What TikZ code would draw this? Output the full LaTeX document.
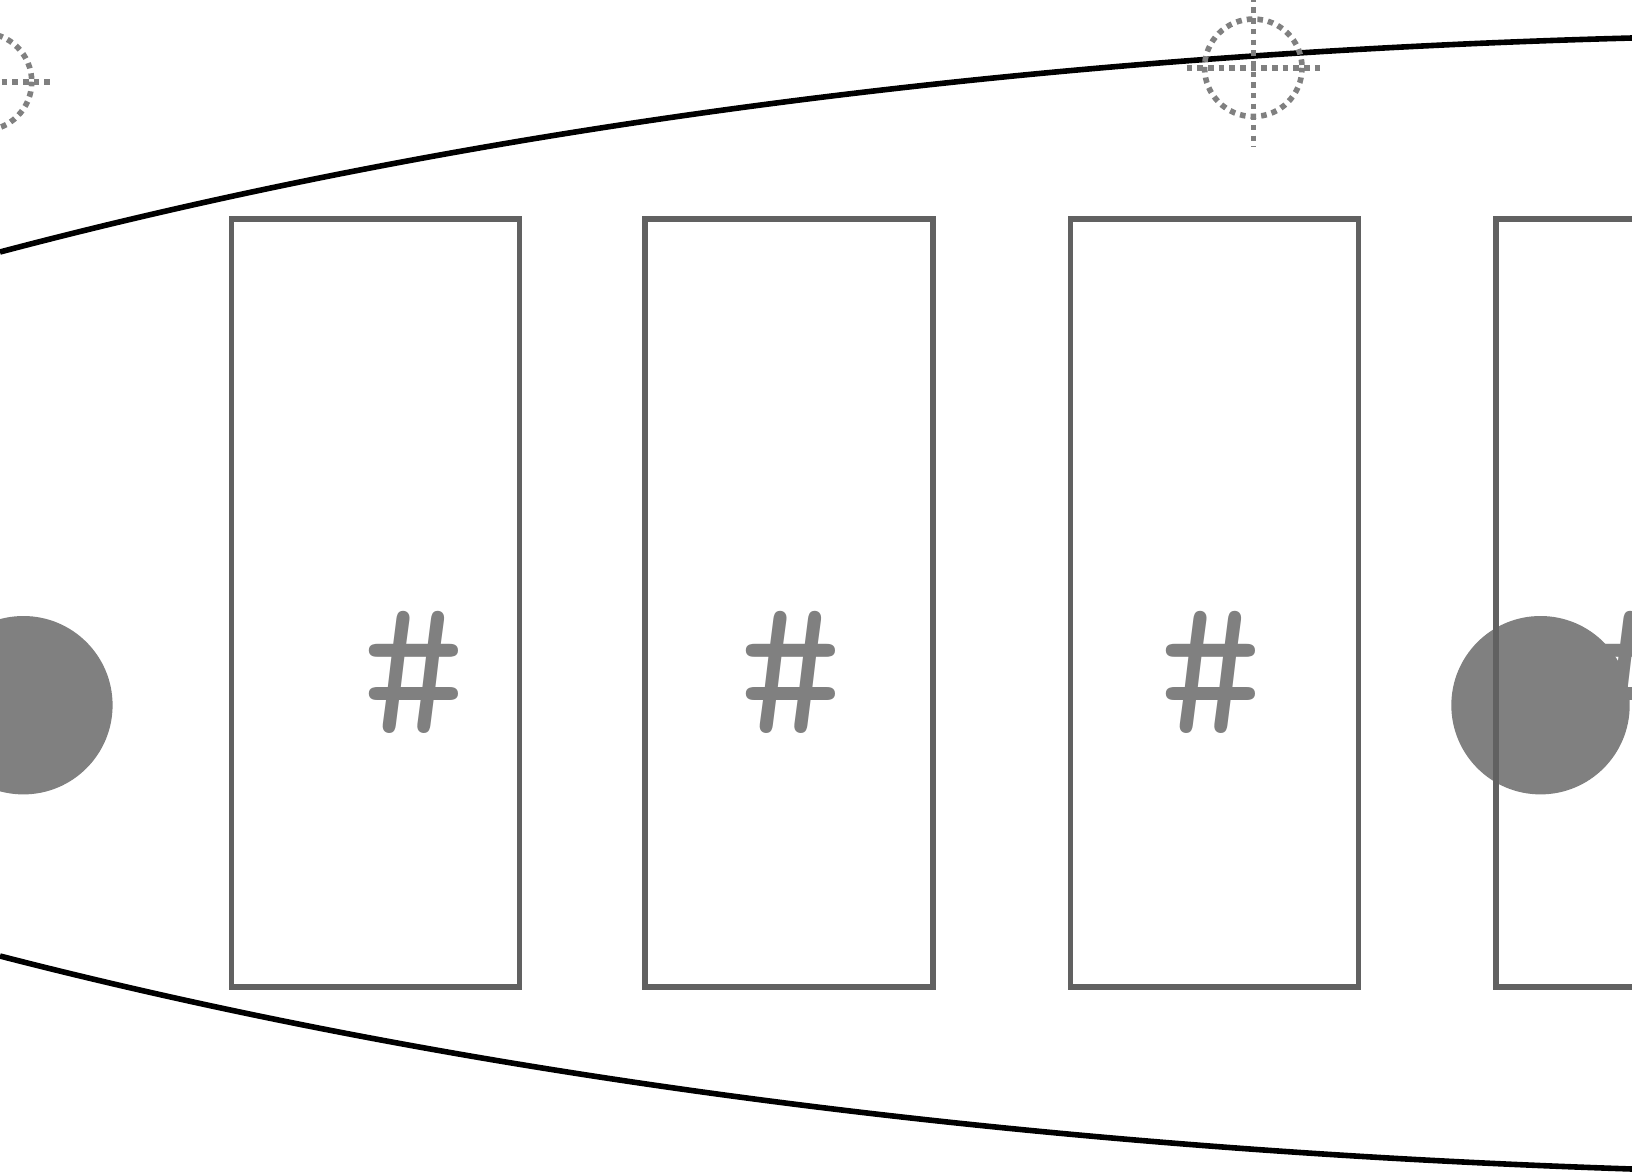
\documentclass[tikz,border=0pt]{standalone}
\usepackage{fontspec}
\setmonofont{Latin Modern Mono}
\definecolor{slotgray}{HTML}{616161}
\definecolor{markgray}{HTML}{808080}
\begin{document}
\begin{tikzpicture}[x=1pt,y=-1pt,
  curve/.style={draw=black,line width=5.6pt},
  slot/.style={draw=slotgray,line width=5.6pt,fill=none,rectangle,inner sep=0pt,outer sep=0pt,minimum width=288pt,minimum height=768pt,anchor=north west},
  hashmark/.style={text=markgray,font=\ttfamily\fontsize{200pt}{200pt}\selectfont,inner sep=0pt,anchor=base},
  disc/.style={circle,fill=markgray,draw=none,inner sep=0pt,outer sep=0pt,minimum size=178.4pt},
  dots/.style={draw=markgray,line width=5.6pt,dash pattern=on 5.6pt off 5.07pt},
  ring/.style={circle,dots,dash phase=7.84pt,inner sep=0pt,outer sep=0pt,minimum size=97.5pt}]
\useasboundingbox (0,0) rectangle (1632,1172);
\clip (0,0) rectangle (1632,1172);
\fill[white] (0,0) rectangle (1632,1172);
\node[disc] (d1) at (23.4,705.2) {};
\node[disc] (d2) at (1540.5,705.2) {};
\node[slot] (r1) at (231.4,219) {};
\node[slot] (r2) at (645,219) {};
\node[slot] (r3) at (1070.4,219) {};
\node[slot] (r4) at (1496,219) {};
\node[hashmark] (h1) at (413.5,733) {\#};
\node[hashmark] (h2) at (790.5,733) {\#};
\node[hashmark] (h3) at (1211,733) {\#};
\node[hashmark] (h4) at (1640.5,733) {\#};
\draw[curve] (0,252) .. controls (450,133) and (1000,55) .. (1632,38);
\draw[curve] (0,956) .. controls (450,1072) and (1000,1148) .. (1632,1169);
\node[ring] (c1) at (1253.3,67.8) {};
\coordinate (c1w) at (1186.7,67.8);
\coordinate (c1e) at (1320,67.8);
\coordinate (c1n) at (1253.3,-3.17);
\coordinate (c1s) at (1253.3,147);
\draw[dots] (c1w) -- (c1e);
\draw[dots] (c1n) -- (c1s);
\node[ring] (c2) at (-17,81.7) {};
\coordinate (c2w) at (-83.8,81.7);
\coordinate (c2e) at (49.5,81.7);
\draw[dots] (c2w) -- (c2e);
\end{tikzpicture}
\end{document}
